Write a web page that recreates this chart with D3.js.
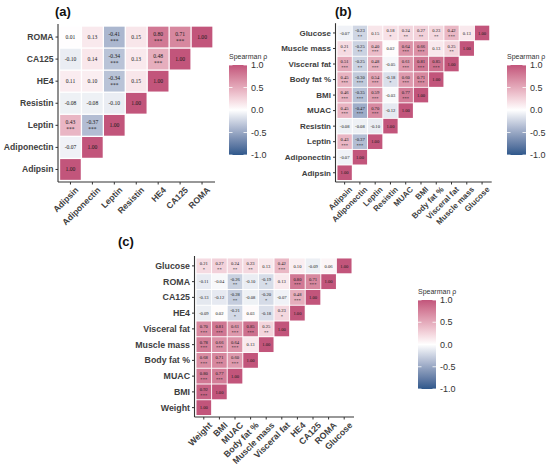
<!DOCTYPE html>
<html>
<head>
<meta charset="utf-8">
<script src="https://cdn.jsdelivr.net/npm/d3@7"></script>
<style>
  body { margin: 0; background: #fff; }
  svg { display: block; }
</style>
</head>
<body>
<svg id="chart" width="550" height="466"></svg>
<script>
// panel (a): adipokines and tumour markers
const aVars = ["Adipsin", "Adiponectin", "Leptin", "Resistin", "HE4", "CA125", "ROMA"]
const aRho = [
  [1.00],
  [-0.07, 1.00],
  [0.43, -0.37, 1.00],
  [-0.08, -0.08, -0.10, 1.00],
  [0.11, 0.10, -0.34, 0.15, 1.00],
  [-0.10, 0.14, -0.34, 0.13, 0.48, 1.00],
  [0.01, 0.13, -0.41, 0.15, 0.80, 0.71, 1.00]
]
const aStars = [
  [""],
  ["", ""],
  ["***", "***", ""],
  ["", "", "", ""],
  ["", "", "***", "", ""],
  ["", "", "***", "", "***", ""],
  ["", "", "***", "", "***", "***", ""]
]

// panel (b): adipokines and body measures
const bVars = ["Adipsin", "Adiponectin", "Leptin", "Resistin", "MUAC", "BMI", "Body fat %", "Visceral fat", "Muscle mass", "Glucose"]
const bRho = [
  [1.00],
  [-0.07, 1.00],
  [0.43, -0.37, 1.00],
  [-0.08, -0.08, -0.10, 1.00],
  [0.45, -0.47, 0.70, -0.12, 1.00],
  [0.46, -0.35, 0.59, -0.03, 0.77, 1.00],
  [0.45, -0.30, 0.54, -0.18, 0.60, 0.71, 1.00],
  [0.51, -0.25, 0.48, -0.05, 0.61, 0.81, 0.85, 1.00],
  [0.21, -0.25, 0.40, 0.02, 0.64, 0.66, 0.13, 0.25, 1.00],
  [-0.07, -0.23, 0.15, 0.18, 0.24, 0.27, 0.23, 0.42, 0.13, 1.00]
]
const bStars = [
  [""],
  ["", ""],
  ["***", "***", ""],
  ["", "", "", ""],
  ["***", "***", "***", "", ""],
  ["***", "***", "***", "", "***", ""],
  ["***", "***", "***", "*", "***", "***", ""],
  ["***", "**", "***", "", "***", "***", "***", ""],
  ["*", "**", "***", "", "***", "***", "", "**", ""],
  ["", "**", "", "*", "**", "**", "**", "***", "", ""]
]

// panel (c): body measures and tumour markers
const cVars = ["Weight", "BMI", "MUAC", "Body fat %", "Muscle mass", "Visceral fat", "HE4", "CA125", "ROMA", "Glucose"]
const cRho = [
  [1.00],
  [0.92, 1.00],
  [0.80, 0.77, 1.00],
  [0.68, 0.71, 0.60, 1.00],
  [0.78, 0.66, 0.64, 0.13, 1.00],
  [0.70, 0.81, 0.61, 0.85, 0.25, 1.00],
  [-0.09, 0.02, -0.21, 0.03, -0.18, 0.23, 1.00],
  [-0.13, -0.12, -0.28, -0.08, -0.20, -0.07, 0.48, 1.00],
  [-0.11, -0.04, -0.26, -0.10, -0.19, 0.13, 0.80, 0.71, 1.00],
  [0.21, 0.27, 0.24, 0.23, 0.13, 0.42, 0.10, -0.09, 0.06, 1.00]
]
const cStars = [
  [""],
  ["***", ""],
  ["***", "***", ""],
  ["***", "***", "***", ""],
  ["***", "***", "***", "", ""],
  ["***", "***", "***", "***", "**", ""],
  ["", "", "*", "", "", "*", ""],
  ["", "", "**", "", "*", "", "***", ""],
  ["", "", "**", "", "*", "", "***", "***", ""],
  ["*", "**", "**", "**", "", "***", "", "", "", ""]
]

const legendTicks = [-1, -0.5, 0, 0.5, 1]
const legendTitle = "Spearman \u03c1"

const lowCol = "#2f588b"
const highCol = "#c2557b"
const axisCol = "#333333"
const labelCol = "#404040"

const svg = d3.select("#chart")

const color = d3.scaleLinear()
  .domain([-1, 0, 1])
  .range([lowCol, "#ffffff", highCol])
  .interpolate(d3.interpolateLab)

// one gradient shared by all three legends
const grad = svg.append("defs").append("linearGradient")
  .attr("id", "rhoGrad")
  .attr("x1", 0).attr("y1", 1).attr("x2", 0).attr("y2", 0)
d3.range(0, 1.0001, 0.1).forEach(t => {
  grad.append("stop")
    .attr("offset", t)
    .attr("stop-color", color(-1 + 2 * t))
})

function drawPanel(p, vars, rho, stars) {
  const g = svg.append("g")

  const x = d3.scaleBand().domain(vars).range([p.x0, p.x1]).paddingInner(0.06).paddingOuter(0.03)
  const y = d3.scaleBand().domain(vars).range([p.y1, p.y0]).paddingInner(0.06).paddingOuter(0.03)

  const cells = []
  rho.forEach((row, i) => row.forEach((v, j) => {
    cells.push({ row: vars[i], col: vars[j], v: v, s: stars[i][j] })
  }))

  g.selectAll("rect.cell")
    .data(cells)
    .join("rect")
    .attr("class", "cell")
    .attr("x", d => x(d.col))
    .attr("y", d => y(d.row))
    .attr("width", x.bandwidth())
    .attr("height", y.bandwidth())
    .attr("fill", d => color(d.v))

  const cellText = g.selectAll("g.lab")
    .data(cells)
    .join("g")
    .attr("class", "lab")
    .attr("transform", d => `translate(${x(d.col) + x.bandwidth() / 2},${y(d.row) + y.bandwidth() / 2})`)
    .style("font-family", "'Liberation Serif', 'DejaVu Serif', serif")
    .style("font-size", p.cellFont + "px")
    .attr("fill", "#1a1a1a")
    .attr("text-anchor", "middle")

  cellText.append("text")
    .attr("y", d => d.s ? -p.cellFont * 0.2 : p.cellFont * 0.35)
    .text(d => d.v.toFixed(2))
  cellText.filter(d => d.s).append("text")
    .attr("y", p.cellFont * 1.05)
    .text(d => d.s)

  // axis lines
  const ax = p.x0 - 1.5
  const ay = p.y1 + 1.5
  g.append("line")
    .attr("x1", ax).attr("x2", ax).attr("y1", p.y0 - 2).attr("y2", ay)
    .attr("stroke", axisCol).attr("stroke-width", 1.1)
  g.append("line")
    .attr("x1", ax).attr("x2", p.x1 + 2).attr("y1", ay).attr("y2", ay)
    .attr("stroke", axisCol).attr("stroke-width", 1.1)

  // y ticks and labels
  const yt = g.selectAll("g.yt")
    .data(vars)
    .join("g")
    .attr("class", "yt")
    .attr("transform", d => `translate(${ax},${y(d) + y.bandwidth() / 2})`)
  yt.append("line").attr("x1", 0).attr("x2", -2.5).attr("stroke", axisCol)
  yt.append("text")
    .attr("x", -4.5)
    .attr("dy", "0.35em")
    .attr("text-anchor", "end")
    .style("font-family", "'Liberation Sans', Arial, sans-serif")
    .style("font-weight", "bold")
    .style("font-size", p.labFont + "px")
    .attr("fill", labelCol)
    .text(d => d)

  // x ticks and rotated labels
  const xt = g.selectAll("g.xt")
    .data(vars)
    .join("g")
    .attr("class", "xt")
    .attr("transform", d => `translate(${x(d) + x.bandwidth() / 2},${ay})`)
  xt.append("line").attr("y1", 0).attr("y2", 2.5).attr("stroke", axisCol)
  xt.append("text")
    .attr("transform", `translate(${p.labFont * 0.5},${p.labFont * 0.5}) rotate(-45)`)
    .attr("dy", "0.7em")
    .attr("text-anchor", "end")
    .style("font-family", "'Liberation Sans', Arial, sans-serif")
    .style("font-weight", "bold")
    .style("font-size", p.labFont + "px")
    .attr("fill", labelCol)
    .text(d => d)

  // panel letter
  svg.append("text")
    .attr("x", p.tx).attr("y", p.ty)
    .style("font-family", "'Liberation Sans', Arial, sans-serif")
    .style("font-weight", "bold")
    .style("font-size", "13px")
    .attr("fill", "#111")
    .text(p.tag)

  // colour bar legend
  const lg = svg.append("g")
  lg.append("text")
    .attr("x", p.lx).attr("y", p.ly0 - 6)
    .style("font-family", "'Liberation Sans', Arial, sans-serif")
    .style("font-size", "7px")
    .attr("fill", "#333")
    .text(legendTitle)
  lg.append("rect")
    .attr("x", p.lx).attr("y", p.ly0)
    .attr("width", p.lw).attr("height", p.ly1 - p.ly0)
    .attr("fill", "url(#rhoGrad)")
  const ls = d3.scaleLinear().domain([-1, 1]).range([p.ly1, p.ly0])
  legendTicks.forEach(t => {
    lg.append("line")
      .attr("x1", p.lx).attr("x2", p.lx + 3.5)
      .attr("y1", ls(t)).attr("y2", ls(t))
      .attr("stroke", "#fff").attr("stroke-width", 0.8)
    lg.append("line")
      .attr("x1", p.lx + p.lw - 3.5).attr("x2", p.lx + p.lw)
      .attr("y1", ls(t)).attr("y2", ls(t))
      .attr("stroke", "#fff").attr("stroke-width", 0.8)
  })
  lg.selectAll("text.lt")
    .data(legendTicks)
    .join("text")
    .attr("class", "lt")
    .attr("x", p.lx + p.lw + 4)
    .attr("y", d => ls(d))
    .attr("dy", "0.35em")
    .style("font-family", "'Liberation Sans', Arial, sans-serif")
    .style("font-size", "9px")
    .attr("fill", "#333")
    .text(d => d.toFixed(1))
}

drawPanel({ tag: "(a)", tx: 55, ty: 16, x0: 59.5, x1: 213, y0: 26, y1: 180.5,
  labFont: 8.6, cellFont: 5.6, lx: 229, lw: 18, ly0: 65, ly1: 155 }, aVars, aRho, aStars)

drawPanel({ tag: "(b)", tx: 335, ty: 16, x0: 337, x1: 489.7, y0: 25.2, y1: 180.5,
  labFont: 8.0, cellFont: 4.6, lx: 507, lw: 19, ly0: 65, ly1: 155 }, bVars, bRho, bStars)

drawPanel({ tag: "(c)", tx: 118, ty: 246, x0: 196, x1: 352, y0: 258, y1: 415.5,
  labFont: 8.8, cellFont: 4.6, lx: 418, lw: 18, ly0: 300, ly1: 389 }, cVars, cRho, cStars)
</script>
</body>
</html>
